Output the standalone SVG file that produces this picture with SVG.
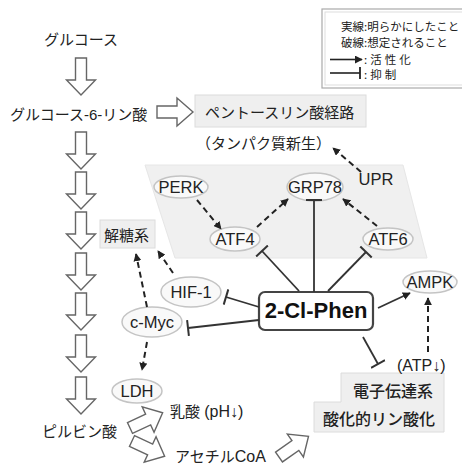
<svg xmlns="http://www.w3.org/2000/svg" width="462" height="464" viewBox="0 0 462 464">
<defs>
<style>
.jp{font-family:"Liberation Sans","Noto Sans CJK JP",sans-serif;fill:#222;font-size:15px}
.lg{font-family:"Noto Sans CJK JP",sans-serif;fill:#222;font-size:11.5px}
.nd{font-family:"Liberation Sans",Arial,sans-serif;fill:#222;font-size:16.5px;text-anchor:middle}
.ell{fill:#f9f9f9;stroke:#c4c4c4;stroke-width:1.5}
.gbox{fill:#efefef;stroke:#dcdcdc;stroke-width:1}
.blk{fill:#fff;stroke:#666;stroke-width:1.4;stroke-linejoin:miter}
.dash{fill:none;stroke:#222;stroke-width:2;stroke-dasharray:6 4;marker-end:url(#ah)}
.inh{fill:none;stroke:#333;stroke-width:1.8;marker-end:url(#tee)}
.act{fill:none;stroke:#333;stroke-width:1.8;marker-end:url(#ah)}
</style>
<marker id="ah" viewBox="0 0 10 10" refX="9" refY="5" markerWidth="8" markerHeight="8" markerUnits="userSpaceOnUse" orient="auto"><path d="M0,0 L10,5 L0,10 z" fill="#222"/></marker>
<marker id="tee" viewBox="0 0 4 16" refX="2" refY="8" markerWidth="4" markerHeight="16" markerUnits="userSpaceOnUse" orient="auto"><path d="M2,0 V16" stroke="#333" stroke-width="2"/></marker>
<path id="down" d="M-5.5,0 H5.5 V22 H14.5 L0,37 L-14.5,22 H-5.5 Z"/>
<path id="right" d="M0,-6 H20 V-14 L36,0 L20,14 V6 H0 Z"/>
</defs>
<rect width="462" height="464" fill="#fff"/>

<!-- legend -->
<g id="legend">
<rect x="322" y="9" width="150" height="79" fill="#fff" stroke="#aaa" stroke-width="1.2"/>
<rect x="325" y="12" width="150" height="73" fill="none" stroke="#ddd" stroke-width="1"/>
<text class="lg" x="341" y="31">実線:明らかにしたこと</text>
<text class="lg" x="341" y="47">破線:想定されること</text>
<line x1="330" y1="59.5" x2="362" y2="59.5" stroke="#222" stroke-width="1.6" marker-end="url(#ah)"/>
<text class="lg" x="364" y="64" letter-spacing="3">:活性化</text>
<line x1="330" y1="73" x2="360" y2="73" stroke="#222" stroke-width="1.6"/>
<line x1="360" y1="67" x2="360" y2="79" stroke="#222" stroke-width="1.8"/>
<text class="lg" x="364" y="79" letter-spacing="3">:抑制</text>
</g>

<!-- ER parallelogram -->
<g id="er"><path d="M145,165 H403 L427,258 H175 Z" fill="#f0f0f0" stroke="#e6e6e6"/></g>

<!-- left pathway -->
<g id="glucose"><text class="jp" x="81" y="45" text-anchor="middle">グルコース</text></g>
<g id="g6p"><text class="jp" x="10" y="120">グルコース-6-リン酸</text></g>
<g id="pyruvate"><text class="jp" x="42" y="437">ピルビン酸</text></g>
<g id="flow-arrows">
<use href="#down" class="blk" x="81" y="58"/>
<use href="#down" class="blk" x="81" y="132"/>
<use href="#down" class="blk" x="81" y="172"/>
<use href="#down" class="blk" x="81" y="212"/>
<use href="#down" class="blk" x="81" y="253"/>
<use href="#down" class="blk" x="81" y="293"/>
<use href="#down" class="blk" x="81" y="335"/>
<use href="#down" class="blk" x="81" y="377"/>
<use href="#right" class="blk" transform="translate(157,112)"/>
<use href="#right" class="blk" transform="translate(130,428) rotate(-25)"/>
<use href="#right" class="blk" transform="translate(132,441) rotate(25)"/>
<use href="#right" class="blk" transform="translate(279,457) rotate(-35)"/>
</g>

<g id="ppp"><rect class="gbox" x="195" y="95" width="171" height="32"/><text class="jp" x="205" y="118">ペントースリン酸経路</text></g>
<g id="protein"><text class="jp" x="196" y="149">（タンパク質新生）</text></g>
<g id="glycolysis"><rect class="gbox" x="100" y="220" width="55" height="28"/><text class="jp" x="104" y="241">解糖系</text></g>
<g id="lactate"><text class="jp" x="170" y="417">乳酸 <tspan style="font-size:16px">(pH↓)</tspan></text></g>
<g id="acetylcoa"><text class="jp" x="175" y="462">アセチル<tspan style="font-size:16px">CoA</tspan></text></g>
<g id="etc"><path class="gbox" d="M341,373 H444 V432 H314 V402 H341 Z"/>
<text class="jp" x="353" y="397" style="font-size:16px;font-weight:500">電子伝達系</text>
<text class="jp" x="323" y="425" style="font-size:16px;font-weight:500">酸化的リン酸化</text></g>
<g id="atp"><text class="jp" x="397" y="371" style="font-size:16px">(ATP↓)</text></g>

<!-- nodes -->
<g id="perk"><ellipse class="ell" cx="181" cy="187" rx="27" ry="11"/><text class="nd" x="181" y="193">PERK</text></g>
<g id="grp78"><ellipse class="ell" cx="315" cy="187" rx="28" ry="14"/><text class="nd" x="315" y="193">GRP78</text></g>
<g id="upr"><text class="nd" x="376" y="185">UPR</text></g>
<g id="atf4"><ellipse class="ell" cx="235" cy="239" rx="25" ry="12"/><text class="nd" x="235" y="245">ATF4</text></g>
<g id="atf6"><ellipse class="ell" cx="388" cy="239" rx="25" ry="11"/><text class="nd" x="388" y="245">ATF6</text></g>
<g id="ampk"><ellipse class="ell" cx="430" cy="282" rx="27" ry="11"/><text class="nd" x="430" y="288">AMPK</text></g>
<g id="hif1"><ellipse class="ell" cx="191" cy="292" rx="30" ry="15"/><text class="nd" x="191" y="298">HIF-1</text></g>
<g id="cmyc"><ellipse class="ell" cx="152" cy="322" rx="30" ry="15"/><text class="nd" x="152" y="328">c-Myc</text></g>
<g id="ldh"><ellipse class="ell" cx="137" cy="391" rx="25" ry="12"/><text class="nd" x="137" y="397">LDH</text></g>
<g id="clphen"><rect x="259" y="292" width="114" height="38" rx="6" fill="#fff" stroke="#444" stroke-width="2.2"/><text x="316" y="318" text-anchor="middle" font-family="'Liberation Sans',Arial,sans-serif" font-weight="bold" font-size="22" fill="#111">2-Cl-Phen</text></g>

<!-- connectors -->
<g id="connectors">
<path class="dash" d="M197,200 L221,229"/>
<path class="dash" d="M257,227 L288,199"/>
<path class="dash" d="M377,226 L343,199"/>
<path class="dash" d="M361,172 L333,148"/>
<path class="inh" d="M314,292 L314,200"/>
<path class="inh" d="M299,291 L262,251"/>
<path class="inh" d="M328,291 L366,252"/>
<path class="act" d="M378,308 L410,293"/>
<path class="inh" d="M259,307 L226,297"/>
<path class="inh" d="M259,320 L188,328"/>
<path class="inh" d="M363,337 L378,364"/>
<path class="dash" d="M428,352 L428,298"/>
<path class="dash" d="M173,273 L158,251"/>
<path class="dash" d="M147,307 L136,254"/>
<path class="dash" d="M147,342 L142,370"/>
</g>
</svg>
